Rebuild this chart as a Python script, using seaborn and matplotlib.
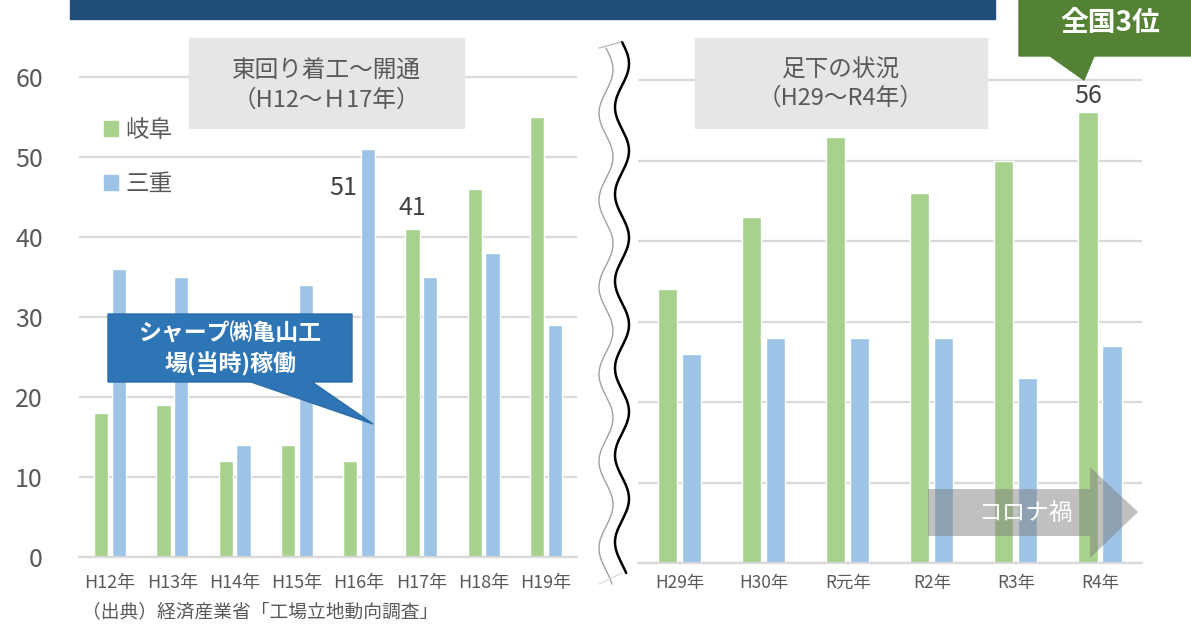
import numpy as np
import pandas as pd
import matplotlib.pyplot as plt
import seaborn as sns
from matplotlib.patches import Rectangle, Polygon
from matplotlib.lines import Line2D

W, H = 1191, 626

# values
years_a = ["H12年", "H13年", "H14年", "H15年", "H16年", "H17年", "H18年", "H19年"]
gifu_a = [18, 19, 12, 14, 12, 41, 46, 55]
mie_a = [36, 35, 14, 34, 51, 35, 38, 29]

years_b = ["H29年", "H30年", "R元年", "R2年", "R3年", "R4年"]
gifu_b = [34, 43, 53, 46, 50, 56]
mie_b = [26, 28, 28, 28, 23, 27]

prefs = ["岐阜", "三重"]
colors = ["#A9D18E", "#9DC3E6"]
y_ticks = [0, 10, 20, 30, 40, 50, 60]

sns.set_theme(style="white")
plt.rcParams['font.family'] = ['Noto Sans CJK JP', 'DejaVu Sans']

TXT = "#595959"


def to_long(years, gifu, mie):
    df = pd.DataFrame({"year": years, "岐阜": gifu, "三重": mie})
    return df.melt(id_vars="year", var_name="pref", value_name="count")


def fx(x):
    return x / W


def fy(y):
    return 1 - y / H


def poly(points, **kw):
    pts = [(fx(x), fy(y)) for x, y in points]
    fig.add_artist(Polygon(pts, closed=True, transform=fig.transFigure, **kw))


def ftext(x, y, s, **kw):
    fig.text(fx(x), fy(y), s, ha=kw.pop("ha", "center"), va="center", **kw)


fig = plt.figure(figsize=(W / 100, H / 100), dpi=100)
ax1 = fig.add_axes([fx(79), fy(557), 498 / W, 520 / H])
ax2 = fig.add_axes([fx(637.5), fy(563), 504.5 / W, 523 / H])

for ax, df in [(ax1, to_long(years_a, gifu_a, mie_a)), (ax2, to_long(years_b, gifu_b, mie_b))]:
    sns.barplot(data=df, x="year", y="count", hue="pref", hue_order=prefs,
                palette=colors, saturation=1, width=0.57, gap=0.2,
                ax=ax, legend=False)
    ax.set_ylim(0, 65)
    ax.set_yticks(y_ticks)
    ax.grid(axis="y", color="#D9D9D9", lw=1.6)
    ax.set_axisbelow(True)
    for s in ["top", "right", "left"]:
        ax.spines[s].set_visible(False)
    ax.spines["bottom"].set_color("#D9D9D9")
    ax.spines["bottom"].set_linewidth(1.6)
    ax.set_xlabel("")
    ax.set_ylabel("")
    ax.tick_params(length=0)

ax1.tick_params(axis="y", labelsize=18, labelcolor=TXT, pad=26)
ax1.tick_params(axis="x", labelsize=13, labelcolor=TXT, pad=12)
ax2.tick_params(axis="y", labelleft=False)
ax2.tick_params(axis="x", labelsize=12.5, labelcolor=TXT, pad=8)

# legend
handles = [Rectangle((0, 0), 1, 1, color=c) for c in colors]
ax1.legend(handles, prefs, loc="upper left", bbox_to_anchor=(fx(92), fy(107)),
           bbox_transform=fig.transFigure, frameon=False, fontsize=17,
           handlelength=0.62, handleheight=0.62, handletextpad=0.3,
           labelspacing=1.3, borderpad=0, labelcolor=TXT)

# data labels
off = 0.1425
ax1.annotate(str(mie_a[4]), xy=(4 + off, mie_a[4]), xytext=(-18, -28),
             textcoords="offset points", ha="center", va="center", fontsize=18, color="#404040")
ax1.annotate(str(gifu_a[5]), xy=(5 - off, gifu_a[5]), xytext=(0, 15),
             textcoords="offset points", ha="center", va="center", fontsize=18, color="#404040")
ax2.annotate(str(gifu_b[5]), xy=(5 - off, gifu_b[5]), xytext=(0, 12),
             textcoords="offset points", ha="center", va="center", fontsize=18,
             color="#404040", annotation_clip=False)

# title bar (cut off at top)
poly([(70, 0), (995, 0), (995, 19), (70, 19)], color="#1F4E79")

# section boxes
poly([(189, 38), (464, 38), (464, 128), (189, 128)], color="#E6E6E6", zorder=3)
ftext(326, 71, "東回り着工～開通", fontsize=17, color=TXT, zorder=4)
ftext(326, 100, "（H12～Ｈ17年）", fontsize=17, color=TXT, zorder=4)
poly([(695, 38), (987, 38), (987, 128), (695, 128)], color="#E6E6E6", zorder=3)
ftext(841, 70, "足下の状況", fontsize=17, color=TXT, zorder=4)
ftext(841, 98, "（H29～R4年）", fontsize=17, color=TXT, zorder=4)

# 全国3位 callout
poly([(1019, 0), (1191, 0), (1191, 56), (1094, 56), (1084, 80), (1050, 56), (1019, 56)],
     color="#548235", zorder=3)
ftext(1110, 23, "全国3位", fontsize=20, color="white", fontweight="bold", zorder=4)

# シャープ callout
poly([(108, 314), (352, 314), (352, 382), (312, 382), (373, 424), (251, 382), (108, 382)],
     facecolor="#2E75B6", edgecolor="#2B6CA8", lw=1, zorder=3)
ftext(230, 334, "シャープ㈱亀山工", fontsize=16.5, color="white", fontweight="bold", zorder=4)
ftext(230, 364, "場(当時)稼働", fontsize=16.5, color="white", fontweight="bold", zorder=4)

# コロナ禍 arrow
poly([(928, 489), (1090, 489), (1090, 467), (1138, 512), (1090, 558), (1090, 536), (928, 536)],
     color="#7C7C7C", alpha=0.48, lw=0, zorder=3)
ftext(1026, 513, "コロナ禍", fontsize=17, color="white", zorder=4)

# wavy break line between panels
yy = np.linspace(42, 573, 400)
xx = 622 + 7 * np.sin(2 * np.pi * (yy - 42) / 87)
fig.add_artist(Line2D(fx(xx), fy(yy), transform=fig.transFigure, color="black", lw=1.8))
yy2 = np.linspace(48, 584, 400)
xx2 = 606 + 7 * np.sin(2 * np.pi * (yy2 - 48) / 87)
fig.add_artist(Line2D(fx(xx2), fy(yy2), transform=fig.transFigure, color="#A0A0A0", lw=1))
fig.add_artist(Line2D([fx(599), fx(621)], [fy(48), fy(42)], transform=fig.transFigure, color="#BBBBBB", lw=1))
fig.add_artist(Line2D([fx(599), fx(622)], [fy(584), fy(573)], transform=fig.transFigure, color="#DDDDDD", lw=1))

# source
ftext(82, 612, "（出典）経済産業省「工場立地動向調査」", fontsize=13.5, color=TXT, ha="left")

fig.savefig("out.png", dpi=100)
